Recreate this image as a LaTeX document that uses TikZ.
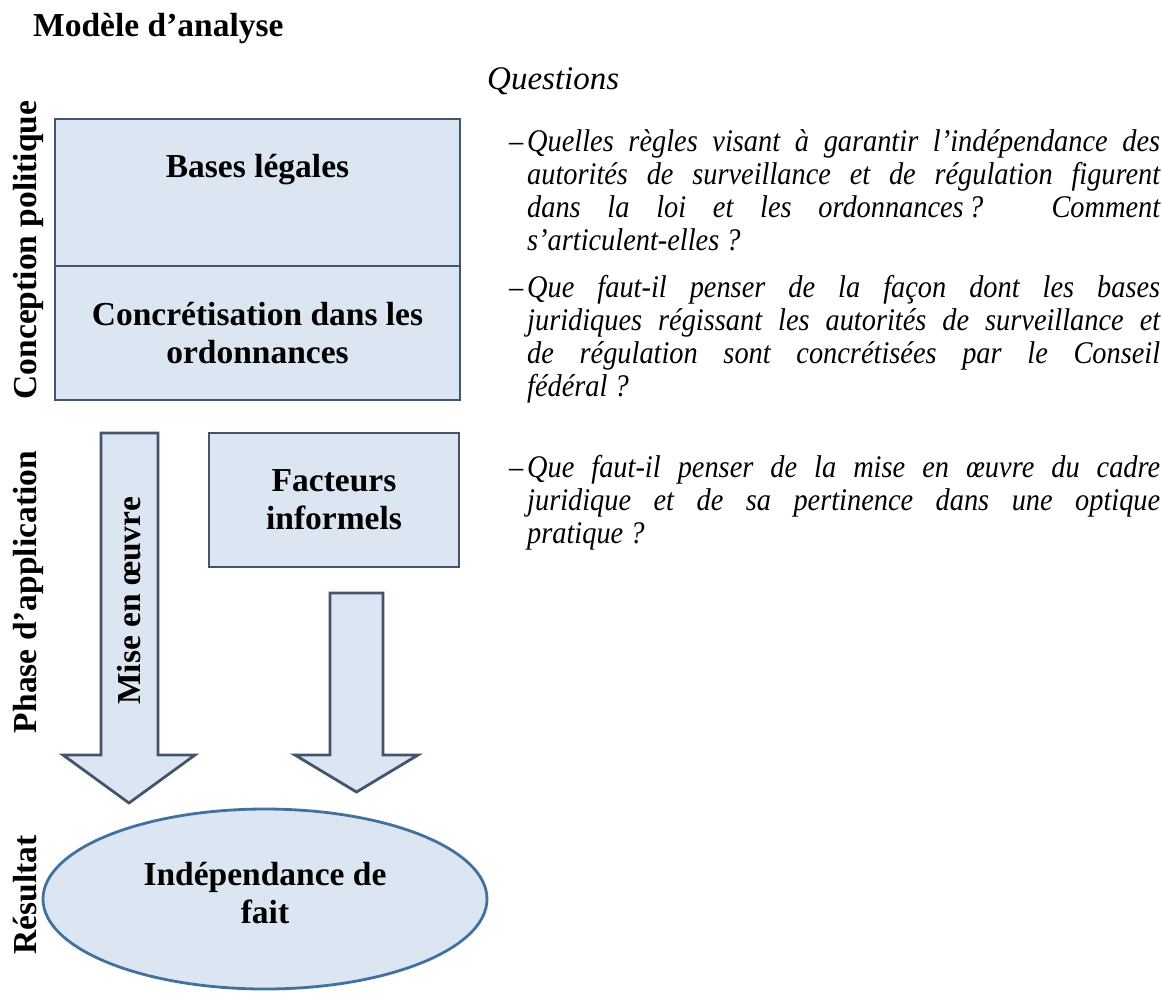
\documentclass[tikz,border=0pt]{standalone}
\usepackage{fontspec}
\setmainfont{Liberation Serif}
\newfontfamily\qfont{Liberation Serif}[FakeStretch=0.9]
\definecolor{boxfill}{HTML}{DCE6F2}
\definecolor{boxline}{HTML}{44546A}
\definecolor{ellline}{HTML}{41719C}
\newcommand{\qdash}{\makebox[0pt][r]{–\kern4pt}}
\begin{document}
\begin{tikzpicture}[x=1pt,y=-1pt,
  blk/.style={draw=boxline, fill=boxfill, line width=2.8pt, line join=miter},
  lbl/.style={font=\fontsize{33.5}{38}\selectfont\bfseries, inner sep=0pt, align=center},
  side/.style={font=\fontsize{33.5}{38}\selectfont\bfseries, inner sep=0pt, rotate=90, anchor=base},
  qtext/.style={font={\qfont\fontsize{31.5}{33}\selectfont\itshape\tolerance=10000\relax\hbadness=10000\relax}, text width=633pt, inner sep=0pt, anchor=north west, align=justify}
]
\useasboundingbox (0,0) rectangle (1162,994);

% title
\node[font=\fontsize{33.5}{38}\selectfont\bfseries, inner sep=0pt, anchor=base west] (title) at (33,36) {Modèle d’analyse};

% side labels
\node[side] (sconc) at (36,250) {Conception politique};
\node[side] (sphase) at (36,592) {Phase d’application};
\node[side] (sres) at (36,895) {Résultat};

% boxes
\node[blk, minimum width=405pt, minimum height=147pt, inner sep=0pt] (bases) at (257.5,192.5) {};
\node[lbl, anchor=base] (basest) at (257.5,177) {Bases légales};
\node[blk, lbl, minimum width=405pt, minimum height=134pt] (concr) at (257.5,333) {Concrétisation dans les\\ordonnances};
\node[blk, lbl, minimum width=250pt, minimum height=134pt] (fact) at (334,500) {Facteurs\\informels};

% block arrows
\draw[blk] (101,433) -- (158,433) -- (158,755) -- (195,755) -- (129,803) -- (63,755) -- (101,755) -- cycle;
\node[side] (mise) at (140,601) {Mise en œuvre};
\draw[blk] (330,593) -- (383,593) -- (383,755) -- (418,755) -- (356.5,792) -- (295,755) -- (330,755) -- cycle;

% result ellipse
\draw[draw=ellline, fill=boxfill, line width=2.8pt] (265,899) ellipse [x radius=222, y radius=90];
\node[lbl] (indep) at (265,893) {Indépendance de\\fait};

% questions
\node[font=\fontsize{33}{38}\selectfont\itshape, inner sep=0pt, anchor=base west] (qhead) at (487,89) {Questions};
\node[qtext] (q1) at (527,127.9) {\strut\qdash Quelles règles visant à garantir l’indépendance des\linebreak autorités de surveillance et de régulation figurent\linebreak dans la loi et les ordonnances\,? Comment\linebreak s’articulent-elles~?};
\node[qtext] (q2) at (527,273.9) {\strut\qdash Que faut-il penser de la façon dont les bases\linebreak juridiques régissant les autorités de surveillance et\linebreak de régulation sont concrétisées par le Conseil\linebreak fédéral~?};
\node[qtext] (q3) at (527,453.9) {\strut\qdash Que faut-il penser de la mise en œuvre du cadre\linebreak juridique et de sa pertinence dans une optique\linebreak pratique~?};
\end{tikzpicture}
\end{document}
